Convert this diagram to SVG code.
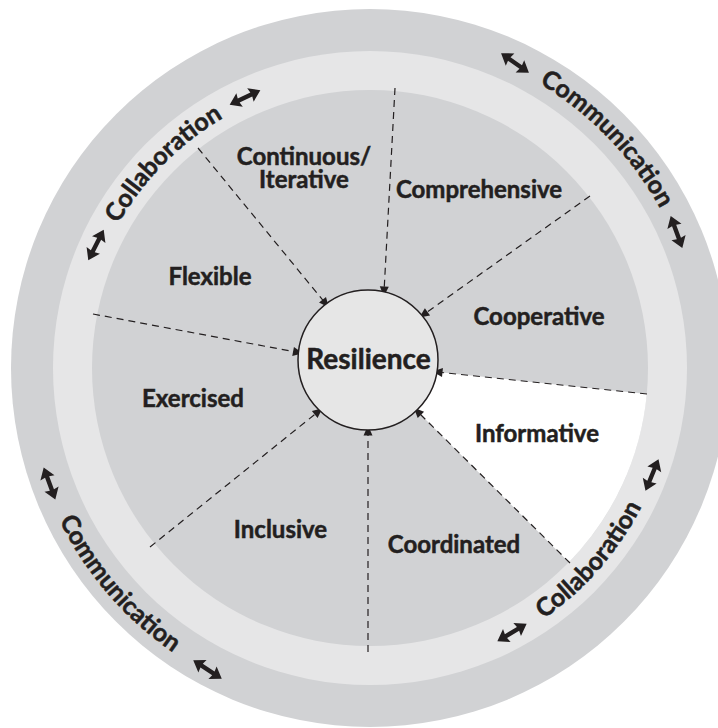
<svg xmlns="http://www.w3.org/2000/svg" xmlns:xlink="http://www.w3.org/1999/xlink" width="718" height="728" viewBox="0 0 718 728">
  <style>
    .lbl { font-family: Lato, "Open Sans", "Liberation Sans", sans-serif; font-weight: 700; font-size: 24px; fill: #231f20; stroke: #231f20; stroke-width: 0.5; text-anchor: middle; }
    .ring { font-family: Lato, "Open Sans", "Liberation Sans", sans-serif; font-weight: 700; font-size: 25px; fill: #231f20; stroke: #231f20; stroke-width: 0.5; text-anchor: middle; }
    .core { font-family: Lato, "Open Sans", "Liberation Sans", sans-serif; font-weight: 700; font-size: 28px; fill: #231f20; stroke: #231f20; stroke-width: 0.5; text-anchor: middle; }
    .dash { fill: none; stroke: #231f20; stroke-width: 1.2; stroke-dasharray: 7 5; marker-end: url(#tip); }
    .dbl { fill: #231f20; }
  </style>
  <defs>
    <marker id="tip" markerUnits="userSpaceOnUse" markerWidth="12" markerHeight="12" viewBox="0 -6 11 12" refX="5.5" refY="0" orient="auto">
      <path d="M0,-4.5 L10,0 L0,4.5 Z" fill="#231f20"/>
    </marker>
    <path id="dbl" d="M-17,0 L-6,-7.5 L-7,-2.2 L7,-2.2 L6,-7.5 L17,0 L6,7.5 L7,2.2 L-7,2.2 L-6,7.5 Z"/>
    <!-- baselines for the curved ring labels -->
    <path id="arcCommTop" d="M289.9,46.8 A331,331 0 0 1 688.2,459.2"/>
    <path id="arcCollTop" d="M90.3,444.5 A290,290 0 0 1 443.6,87.5"/>
    <path id="arcCollBot" d="M310.8,667.2 A305,305 0 0 0 658.7,269.7"/>
    <path id="arcCommBot" d="M43.4,253.6 A346,346 0 0 0 434.2,708"/>
  </defs>

  <!-- concentric bands -->
  <g id="rings">
    <circle cx="370" cy="368" r="359" fill="#d1d2d4"/>
    <circle cx="370" cy="368" r="317" fill="#e6e6e7"/>
    <circle cx="370" cy="368" r="278" fill="#d1d2d4"/>
    <path id="wedge-informative" d="M437,372 L646.8,393.9 A278,278 0 0 1 568.9,562.2 L417,411 Z" fill="#ffffff"/>
  </g>

  <!-- spokes into the core -->
  <g id="connectors">
    <line class="dash" x1="395" y1="88" x2="384" y2="292"/>
    <line class="dash" x1="198" y1="148" x2="326" y2="304"/>
    <line class="dash" x1="590" y1="196" x2="423" y2="315"/>
    <line class="dash" x1="93" y1="314" x2="298.5" y2="352.5"/>
    <line class="dash" x1="647" y1="394" x2="437" y2="372"/>
    <line class="dash" x1="150" y1="547" x2="319" y2="411"/>
    <line class="dash" x1="368" y1="652" x2="368" y2="430"/>
    <line class="dash" x1="570" y1="563" x2="417" y2="411"/>
  </g>

  <g id="resilience">
    <circle cx="368" cy="360" r="70" fill="#e6e6e6" stroke="#231f20" stroke-width="1.5"/>
    <text class="core" x="368.5" y="369">Resilience</text>
  </g>

  <g id="continuous"><text class="lbl" x="304" y="165">Continuous/</text><text class="lbl" x="304" y="188">Iterative</text></g>
  <g id="comprehensive"><text class="lbl" x="479" y="198">Comprehensive</text></g>
  <g id="flexible"><text class="lbl" x="210" y="285">Flexible</text></g>
  <g id="cooperative"><text class="lbl" x="539" y="325">Cooperative</text></g>
  <g id="exercised"><text class="lbl" x="193" y="407">Exercised</text></g>
  <g id="informative"><text class="lbl" x="537" y="442">Informative</text></g>
  <g id="inclusive"><text class="lbl" x="280.5" y="538">Inclusive</text></g>
  <g id="coordinated"><text class="lbl" x="454" y="553">Coordinated</text></g>

  <!-- ring labels with their two-way arrows -->
  <g id="communication-top">
    <text class="ring"><textPath xlink:href="#arcCommTop" startOffset="50%">Communication</textPath></text>
    <use class="dbl" xlink:href="#dbl" transform="translate(515,63) rotate(35)"/>
    <use class="dbl" xlink:href="#dbl" transform="translate(676.5,232) rotate(70)"/>
  </g>
  <g id="collaboration-top">
    <text class="ring"><textPath xlink:href="#arcCollTop" startOffset="50%">Collaboration</textPath></text>
    <use class="dbl" xlink:href="#dbl" transform="translate(245,97.5) rotate(-25.5)"/>
    <use class="dbl" xlink:href="#dbl" transform="translate(96,245) rotate(-63)"/>
  </g>
  <g id="collaboration-bottom">
    <text class="ring"><textPath xlink:href="#arcCollBot" startOffset="50%">Collaboration</textPath></text>
    <use class="dbl" xlink:href="#dbl" transform="translate(652,475) rotate(-67.5)"/>
    <use class="dbl" xlink:href="#dbl" transform="translate(512,632.5) rotate(-30.5)"/>
  </g>
  <g id="communication-bottom">
    <text class="ring"><textPath xlink:href="#arcCommBot" startOffset="50%">Communication</textPath></text>
    <use class="dbl" xlink:href="#dbl" transform="translate(49.5,483.5) rotate(70)"/>
    <use class="dbl" xlink:href="#dbl" transform="translate(207.5,669.5) rotate(33)"/>
  </g>
</svg>
